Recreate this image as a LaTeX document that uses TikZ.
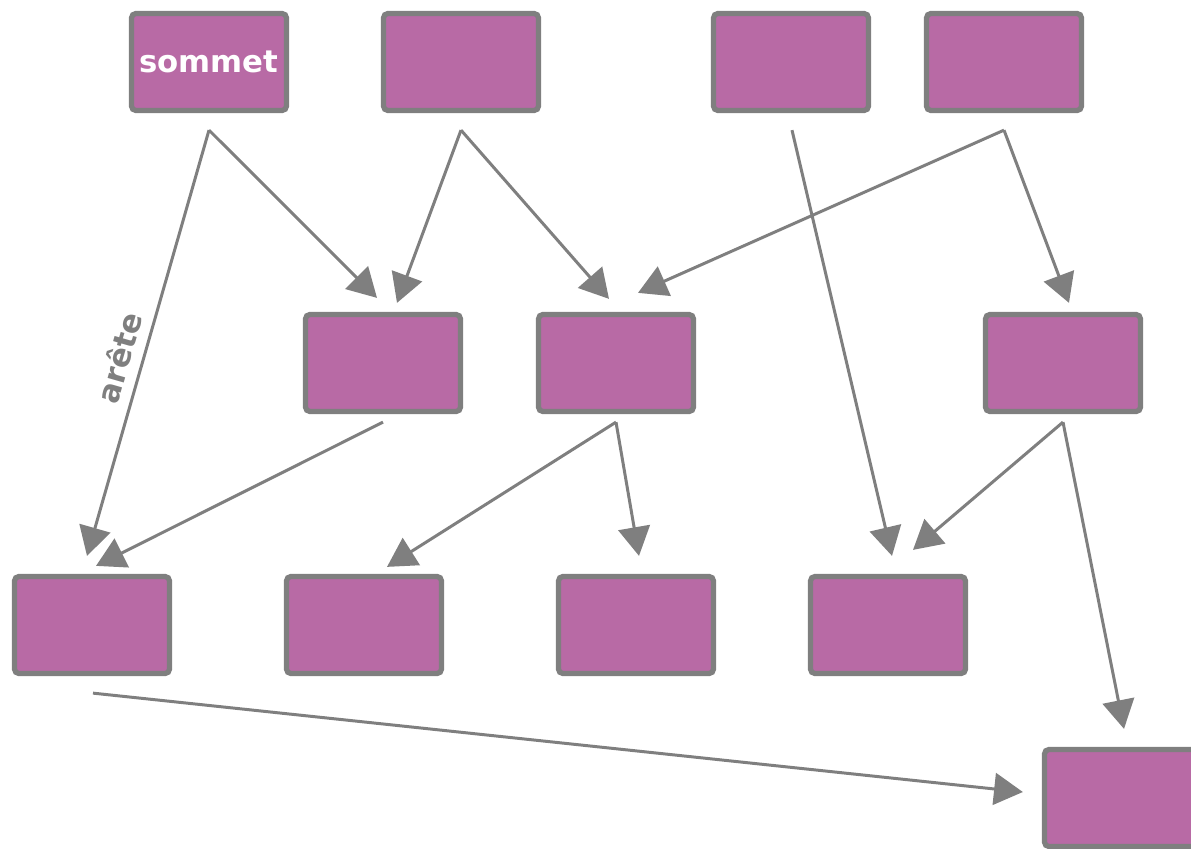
\documentclass[tikz,border=0pt]{standalone}
\usepackage{fontspec}
\setmainfont{DejaVu Sans}
\usepackage{tikz}
\usetikzlibrary{arrows.meta}
\definecolor{vertexfill}{HTML}{B86AA5}
\definecolor{edgegray}{HTML}{7F7F7F}
\tikzstyle{block} = [rectangle, draw=edgegray, line width=3pt, fill=vertexfill,
    rounded corners=2.5pt, minimum width=3.1cm, minimum height=1.94cm, inner sep=0pt,
    text=white, font=\bfseries\fontsize{17.5}{20}\selectfont]
\tikzstyle{line} = [draw=edgegray, line width=1.7pt, -{Triangle[length=16.4pt, width=18.1pt]}]
\tikzstyle{tag} = [text=edgegray, font=\bfseries\fontsize{17.5}{20}\selectfont]

\begin{document}
\begin{tikzpicture}[x=0.02cm, y=-0.02cm]
    \useasboundingbox (0,0) rectangle (1191,849);
    % Place nodes
    \node [block] (top1) at (209,62) {sommet};
    \node [block] (top2) at (461,62) {};
    \node [block] (top3) at (791,62) {};
    \node [block] (top4) at (1004,62) {};
    \node [block] (mid1) at (383,363) {};
    \node [block] (mid2) at (616,363) {};
    \node [block] (mid3) at (1063,363) {};
    \node [block] (low1) at (92,625) {};
    \node [block] (low2) at (364,625) {};
    \node [block] (low3) at (636,625) {};
    \node [block] (low4) at (888,625) {};
    \node [block] (last) at (1122,798) {};
    % Draw edges
    \path [line] ([shift={(0,17)}]top1.south) -- ([shift={(-5,-18)}]low1.north)
        node [tag, pos=0.55, sloped, above=2.5pt] (arete) {arête};
    \path [line] ([shift={(0,17)}]top1.south) -- ([shift={(-6,-14)}]mid1.north);
    \path [line] ([shift={(0,17)}]top2.south) -- ([shift={(14,-9)}]mid1.north);
    \path [line] ([shift={(0,17)}]top2.south) -- ([shift={(-7,-13)}]mid2.north);
    \path [line] ([shift={(1,17)}]top3.south) -- ([shift={(4,-18)}]low4.north);
    \path [line] ([shift={(0,17)}]top4.south) -- ([shift={(22,-19)}]mid2.north);
    \path [line] ([shift={(0,17)}]top4.south) -- ([shift={(6,-9)}]mid3.north);
    \path [line] ([shift={(0,8)}]mid1.south) -- ([shift={(4,-8)}]low1.north);
    \path [line] ([shift={(0,8)}]mid2.south) -- ([shift={(23,-7)}]low2.north);
    \path [line] ([shift={(0,8)}]mid2.south) -- ([shift={(3,-18)}]low3.north);
    \path [line] ([shift={(0,8)}]mid3.south) -- ([shift={(25,-24)}]low4.north);
    \path [line] ([shift={(0,8)}]mid3.south) -- ([shift={(2,-18)}]last.north);
    \path [line] ([shift={(1,17)}]low1.south) -- ([shift={(-19,-6)}]last.west);
\end{tikzpicture}
\end{document}
